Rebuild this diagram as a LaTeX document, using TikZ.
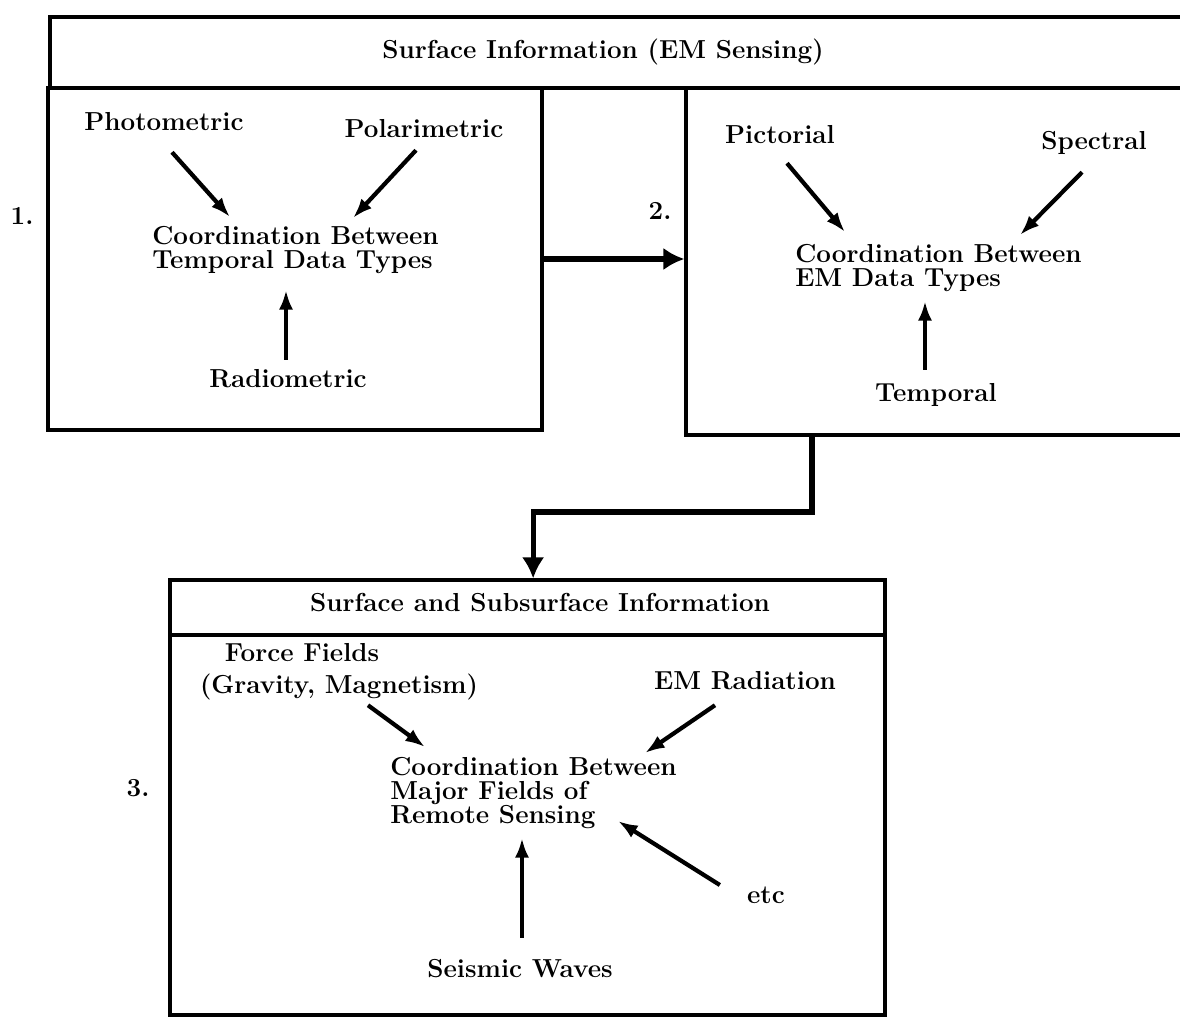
\documentclass[tikz,border=0pt]{standalone}
\usetikzlibrary{calc, arrows.meta, fit, positioning}

\tikzset{
  lbl/.style={font=\fontsize{18.5}{17}\selectfont\bfseries, inner sep=0pt, text height=13pt, text depth=4pt},
  multi/.style={font=\fontsize{18.5}{17}\selectfont\bfseries, inner sep=0pt, align=left, anchor=north west},
  frame/.style={draw, line width=2.2pt, inner sep=0pt},
  feed/.style={-{Latex[length=14pt,width=10pt]}, line width=3pt},
  flow/.style={-{Latex[length=15pt,width=16pt]}, line width=3.6pt}
}

\begin{document}
\begin{tikzpicture}[x=0.025cm, y=-0.025cm]
\useasboundingbox (0,0) rectangle (1180,1021);

% frames
\node[frame, fit={(50,17) (1200,88)}] (head) {};
\node[frame, fit={(48,88) (542,430)}] (box1) {};
\node[frame, fit={(686,88) (1200,435)}] (box2) {};
\node[frame, fit={(170,580) (885,635)}] (head3) {};
\node[frame, fit={(170,635) (885,1015)}] (box3) {};

\node[lbl] (title1) at (603,52) {Surface Information (EM Sensing)};
\node[lbl] (title3) at (540,605) {Surface and Subsurface Information};

\foreach \n/\x/\y in {1/22/218, 2/660/213, 3/138/790} % step numbers
\node[lbl] (num\n) at (\x,\y) {\n.};

% box 1
\node[lbl] (photo) at (164,124) {Photometric};
\node[lbl] (polar) at (424,131) {Polarimetric};
\node[multi] (coord1) at (152,226) {Coordination Between\\Temporal Data Types};
\node[lbl] (radio) at (288,381) {Radiometric};
\draw[feed] ([shift={(8,16)}]photo.south) -- ([shift={(78,-9)}]coord1.north west);
\draw[feed] ([shift={(-8,7)}]polar.south) -- ([shift={(201,-8)}]coord1.north west);
\draw[feed] ([shift={(-2,-9)}]radio.north) -- ([shift={(134,64)}]coord1.north west);

% box 2
\node[lbl] (pict) at (780,137) {Pictorial};
\node[lbl] (spec) at (1094,143) {Spectral};
\node[multi] (coord2) at (795,244) {Coordination Between\\EM Data Types};
\node[lbl] (temp) at (936,395) {Temporal};
\draw[feed] ([shift={(7,14)}]pict.south) -- ([shift={(50,-12)}]coord2.north west);
\draw[feed] ([shift={(-12,17)}]spec.south) -- ([shift={(225,-9)}]coord2.north west);
\draw[feed] ([shift={(-11,-13)}]temp.north) -- ([shift={(130,57)}]coord2.north west);

% box 3
\node[lbl] (force) at (302,655) {Force Fields};
\node[lbl] (grav) at (339,687) {(Gravity, Magnetism)};
\node[lbl] (emrad) at (745,683) {EM Radiation};
\node[multi] (coord3) at (390,757) {Coordination Between\\Major Fields of\\Remote Sensing};
\node[lbl] (etc) at (766,897) {etc};
\node[lbl] (seis) at (520,971) {Seismic Waves};
\draw[feed] ([shift={(29,6)}]grav.south) -- ([shift={(35,-10)}]coord3.north west);
\draw[feed] ([shift={(-30,10)}]emrad.south) -- ([shift={(255,-4)}]coord3.north west);
\draw[feed] ([shift={(-27,-12)}]etc.west) -- ([shift={(228,64)}]coord3.north west);
\draw[feed] ([shift={(2,-21)}]seis.north) -- ([shift={(132,81)}]coord3.north west);

% flow between steps
\draw[flow] (box1.east) -- (box1.east -| box2.west);
\coordinate (bend) at (812,512);
\draw[flow] (box2.south -| bend) -- (bend) -| ([xshift=4pt]head3.north);

\end{tikzpicture}
\end{document}
